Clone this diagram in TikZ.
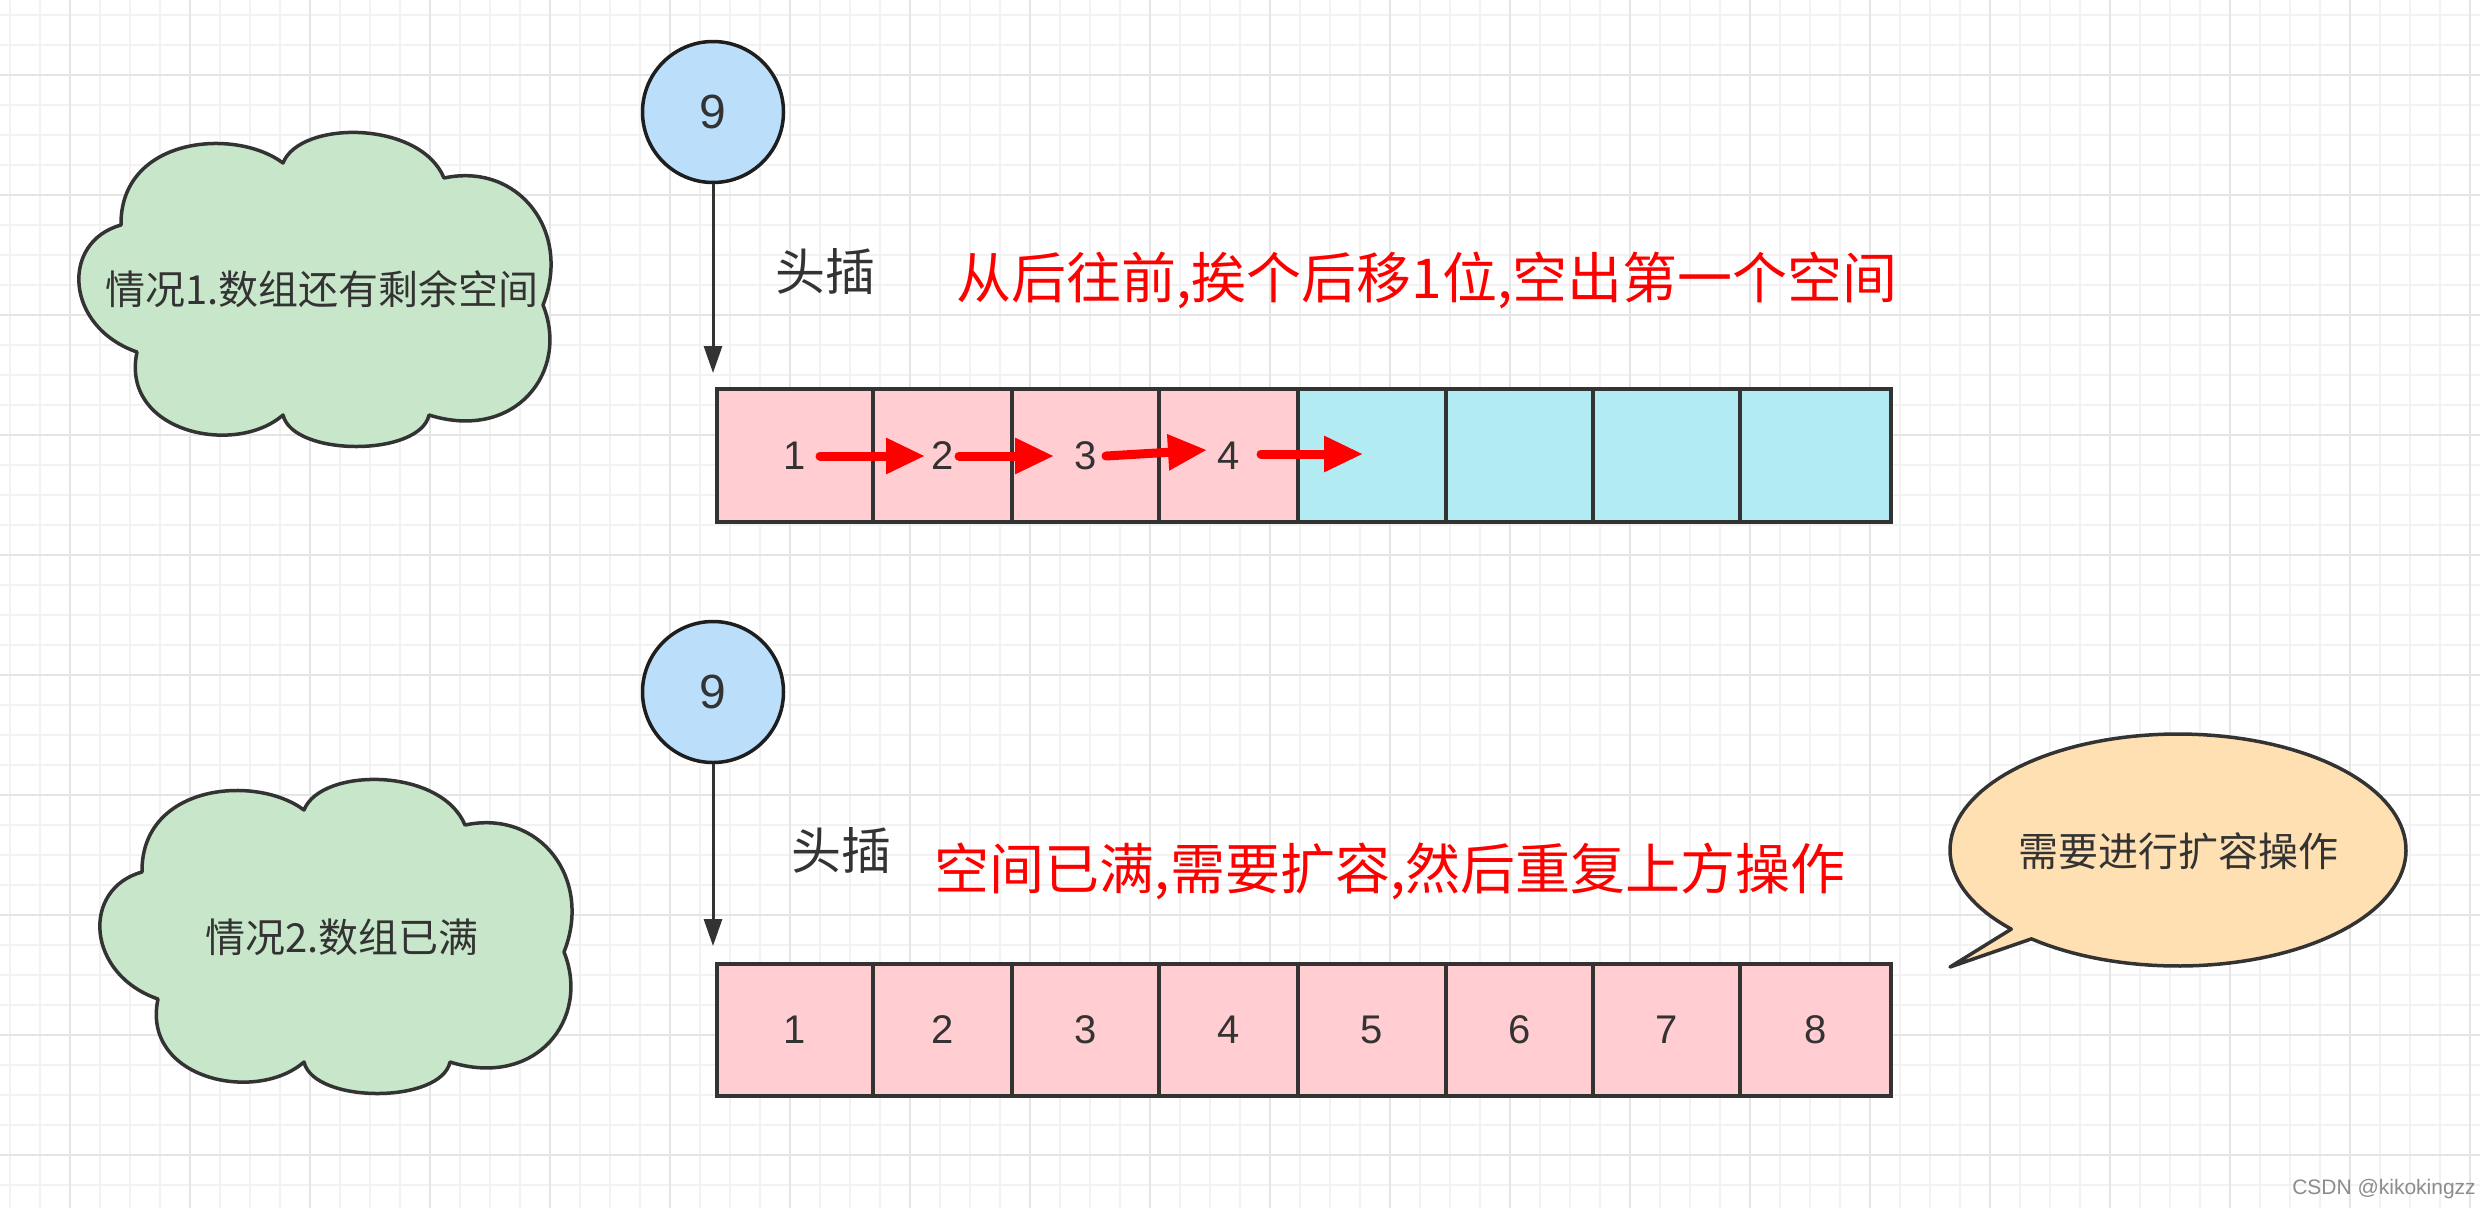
\documentclass[tikz,border=0pt]{standalone}
\usepackage{fontspec}
\setmainfont{Liberation Sans}
\newfontfamily\cjk{Noto Sans CJK SC}
\usetikzlibrary{arrows.meta}
\definecolor{dk}{RGB}{51,51,51}
\definecolor{dkc}{RGB}{30,30,30}
\definecolor{pk}{RGB}{255,205,210}
\definecolor{cy}{RGB}{178,235,242}
\definecolor{gr}{RGB}{200,230,201}
\definecolor{bl}{RGB}{187,222,251}
\definecolor{org}{RGB}{255,224,178}
\definecolor{gminor}{RGB}{242,242,242}
\definecolor{gmajor}{RGB}{229,229,229}
\definecolor{wm}{RGB}{140,140,140}
\tikzset{
  gridminor/.style={draw=gminor, line width=1.6pt},
  gridmajor/.style={draw=gmajor, line width=2.2pt},
  cellbox/.style={draw=dk, line width=3.5pt, minimum height=133pt, inner sep=0pt,
    font=\fontsize{40}{48}\selectfont, text=dk},
  pinkcell/.style={cellbox, fill=pk},
  cyancell/.style={cellbox, fill=cy},
  numcircle/.style={circle, draw=dkc, fill=bl, line width=3.5pt, minimum size=141pt,
    inner sep=0pt, font=\fontsize{48}{58}\selectfont, text=dk},
  conn/.style={draw=dk, line width=3pt, -{Triangle[length=27pt,width=18pt]}},
  redarr/.style={draw=red, line width=9pt, line cap=round, -{Triangle[length=39pt,width=34pt]}},
  cloudsty/.style={draw=dk, fill=gr, line width=3.5pt, line join=round},
  bubblesty/.style={draw=dk, fill=org, line width=3.5pt, line join=round},
  headlbl/.style={font=\cjk\fontsize{50}{60}\selectfont, text=dk, inner sep=0pt},
  redlbl/.style={font=\cjk\fontsize{55}{66}\selectfont, text=red, inner sep=0pt},
  smalllbl/.style={font=\cjk\fontsize{40}{48}\selectfont, text=dk, inner sep=0pt},
}
\newcommand\mycloudshape[2]{%
  \begin{scope}[shift={(#1,#2)}]
    \draw[cloudsty] (208,31) .. controls (225,-12) and (345,-12) .. (369,46)
      .. controls (444,30) and (497,100) .. (468,173)
      .. controls (495,240) and (440,310) .. (354,283)
      .. controls (345,325) and (218,325) .. (208,283)
      .. controls (160,325) and (45,300) .. (62,220)
      .. controls (-10,195) and (-15,110) .. (46,93)
      .. controls (45,5) and (160,-5) .. (208,31) -- cycle;
  \end{scope}}
\begin{document}
\begin{tikzpicture}[x=1pt, y=-1pt]
\useasboundingbox (0,0) rectangle (2480,1208);
\fill[white] (0,0) rectangle (2480,1208);
% grid
\foreach \gx in {10,40,...,2470} \draw[gridminor] (\gx,0) -- (\gx,1208);
\foreach \gy in {15,45,...,1205} \draw[gridminor] (0,\gy) -- (2480,\gy);
\foreach \gx in {70,190,...,2470} \draw[gridmajor] (\gx,0) -- (\gx,1208);
\foreach \gy in {75,195,...,1195} \draw[gridmajor] (0,\gy) -- (2480,\gy);

% clouds
\mycloudshape{75}{132}
\node[smalllbl] (k1) at (322,289.5) {情况1.数组还有剩余空间};
\mycloudshape{96}{779}
\node[smalllbl] (k2) at (342,937) {情况2.数组已满};

% ---- case 1 ----
\node[numcircle] (c1) at (713,112) {9};
\coordinate (t1) at (713,373);
\draw[conn] (c1) -- (t1);
\node[headlbl] (h1) at (825,272) {头插};
\node[redlbl] (r1) at (1427,280) {从后往前,挨个后移1位,空出第一个空间};

\foreach \i/\l/\r/\s/\v in {1/717/873/pinkcell/1, 2/873/1012/pinkcell/2, 3/1012/1159/pinkcell/3, 4/1159/1298/pinkcell/4,
  5/1298/1446/cyancell/{}, 6/1446/1593/cyancell/{}, 7/1593/1740/cyancell/{}, 8/1740/1891/cyancell/{}}
  \node[\s, minimum width={(\r-\l)*1pt}] (a\i) at ({(\l+\r)/2},455.5) {\v};

\coordinate (s1) at (820,456);   \coordinate (e1) at (925,456);
\coordinate (s2) at (959,456);   \coordinate (e2) at (1054,456);
\coordinate (s3) at (1106,456);  \coordinate (e3) at (1207,450);
\coordinate (s4) at (1261,454);  \coordinate (e4) at (1363,454);
\draw[redarr] (s1) -- (e1);
\draw[redarr] (s2) -- (e2);
\draw[redarr] (s3) -- (e3);
\draw[redarr] (s4) -- (e4);

% ---- case 2 ----
\node[numcircle] (c2) at (713,692) {9};
\coordinate (t2) at (713,946);
\draw[conn] (c2) -- (t2);
\node[headlbl] (h2) at (841,851) {头插};
\node[redlbl] (r2) at (1390,871) {空间已满,需要扩容,然后重复上方操作};

\foreach \i/\l/\r in {1/717/873, 2/873/1012, 3/1012/1159, 4/1159/1298,
  5/1298/1446, 6/1446/1593, 7/1593/1740, 8/1740/1891}
  \node[pinkcell, minimum width={(\r-\l)*1pt}, minimum height=132pt] (b\i) at ({(\l+\r)/2},1030) {\i};

% speech bubble
\draw[bubblesty] (1950,967) -- plot[domain=130:-223, samples=140] ({2178+228*cos(\x)},{850+116*sin(\x)}) -- cycle;
\node[smalllbl] (bt) at (2178,851) {需要进行扩容操作};

% watermark
\node[font=\fontsize{21}{25}\selectfont, text=wm, inner sep=0pt] (wmk) at (2384,1189) {CSDN @kikokingzz};
\end{tikzpicture}
\end{document}
